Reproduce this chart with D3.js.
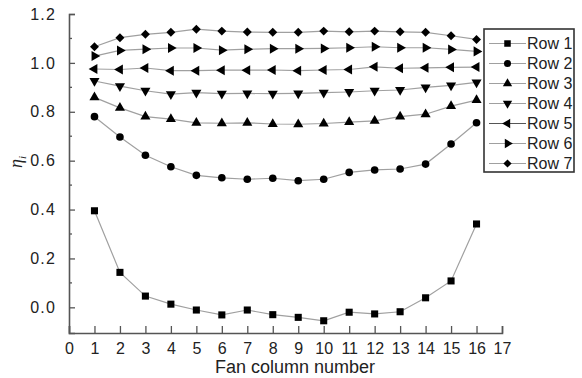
<!DOCTYPE html>
<html>
<head>
<meta charset="utf-8">
<script src="https://cdn.jsdelivr.net/npm/d3@7"></script>
<style>
  html, body { margin: 0; padding: 0; background: #fff; }
  svg { display: block; font-family: Arial, "Liberation Sans", sans-serif; }
</style>
</head>
<body>
<svg id="chart" width="582" height="378"></svg>
<script>
// Fan column numbers along the x axis
const columns = [1, 2, 3, 4, 5, 6, 7, 8, 9, 10, 11, 12, 13, 14, 15, 16];

// Efficiency per fan column, one array per row
const row1 = [0.395, 0.143, 0.046, 0.013, -0.011, -0.031, -0.011, -0.030, -0.041, -0.055, -0.020, -0.027, -0.018, 0.039, 0.108, 0.341];
const row2 = [0.780, 0.697, 0.622, 0.575, 0.540, 0.530, 0.524, 0.528, 0.518, 0.524, 0.552, 0.562, 0.566, 0.586, 0.668, 0.755];
const row3 = [0.859, 0.816, 0.780, 0.770, 0.755, 0.753, 0.755, 0.750, 0.749, 0.752, 0.758, 0.763, 0.780, 0.790, 0.823, 0.848];
const row4 = [0.926, 0.905, 0.886, 0.872, 0.878, 0.874, 0.875, 0.874, 0.875, 0.878, 0.881, 0.886, 0.889, 0.900, 0.908, 0.920];
const row5 = [0.975, 0.973, 0.979, 0.968, 0.968, 0.970, 0.970, 0.971, 0.968, 0.971, 0.973, 0.984, 0.978, 0.980, 0.982, 0.983];
const row6 = [1.028, 1.051, 1.056, 1.061, 1.061, 1.052, 1.056, 1.058, 1.058, 1.059, 1.062, 1.066, 1.062, 1.062, 1.055, 1.047];
const row7 = [1.066, 1.103, 1.117, 1.125, 1.138, 1.130, 1.126, 1.125, 1.125, 1.130, 1.127, 1.130, 1.127, 1.125, 1.111, 1.096];

const seriesNames = ["Row 1", "Row 2", "Row 3", "Row 4", "Row 5", "Row 6", "Row 7"];
const seriesValues = [row1, row2, row3, row4, row5, row6, row7];

// Axis tick values
const xTicks = d3.range(0, 18);
const yMajorTicks = [0.0, 0.2, 0.4, 0.6, 0.8, 1.0, 1.2];
const yMinorTicks = [0.1, 0.3, 0.5, 0.7, 0.9, 1.1];

const svg = d3.select("#chart");
const plot = { left: 69, right: 502, top: 14, bottom: 333 };

const x = d3.scaleLinear().domain([0, 17]).range([plot.left, plot.right]);
const y = d3.scaleLinear().domain([-0.105, 1.2]).range([plot.bottom, plot.top]);

// Marker shapes: square, circle, up/down/left/right triangles, diamond
const markerDefs = [
  { type: d3.symbolSquare, size: 50, rotate: 0 },
  { type: d3.symbolCircle, size: 46, rotate: 0 },
  { type: d3.symbolTriangle, size: 44, rotate: 0 },
  { type: d3.symbolTriangle, size: 44, rotate: 180 },
  { type: d3.symbolTriangle, size: 44, rotate: -90 },
  { type: d3.symbolTriangle, size: 44, rotate: 90 },
  { type: d3.symbolSquare, size: 40, rotate: 45 }
];
const symbolPath = m => d3.symbol().type(m.type).size(m.size)();

const axisColor = "#555";
const lineColor = "#a0a0a0";

// Series lines first, then markers on top
const line = d3.line().x((d, i) => x(columns[i])).y(d => y(d));
const seriesG = svg.append("g");
seriesValues.forEach((vals, s) => {
  seriesG.append("path")
    .attr("d", line(vals))
    .attr("fill", "none")
    .attr("stroke", lineColor)
    .attr("stroke-width", 1.2);
});
seriesValues.forEach((vals, s) => {
  const m = markerDefs[s];
  seriesG.append("g").selectAll("path")
    .data(vals)
    .join("path")
    .attr("d", symbolPath(m))
    .attr("transform", (d, i) => `translate(${x(columns[i])},${y(d)}) rotate(${m.rotate})`)
    .attr("fill", "#000");
});

// X axis: ticks pointing inward (up)
const xAxis = d3.axisBottom(x).tickValues(xTicks).tickSize(-7).tickPadding(10).tickFormat(d3.format("d"));
const gx = svg.append("g").attr("transform", `translate(0,${plot.bottom})`).call(xAxis);
gx.select(".domain").attr("stroke", axisColor).attr("stroke-width", 1.6);
gx.selectAll(".tick line").attr("stroke", axisColor).attr("stroke-width", 1.3);
gx.selectAll(".tick text").attr("fill", "#222").style("font-size", "16px");

// Y axis: major and minor ticks pointing inward (right)
const yAxis = d3.axisLeft(y).tickValues(yMajorTicks).tickSize(-6).tickPadding(13).tickFormat(d3.format(".1f"));
const gy = svg.append("g").attr("transform", `translate(${plot.left},0)`).call(yAxis);
gy.select(".domain").attr("stroke", axisColor).attr("stroke-width", 1.6);
gy.selectAll(".tick line").attr("stroke", axisColor).attr("stroke-width", 1.3);
gy.selectAll(".tick text").attr("fill", "#222").style("font-size", "16px").style("letter-spacing", "1.2px");
gy.selectAll(".minor").data(yMinorTicks).join("line")
  .attr("class", "minor")
  .attr("x1", 0).attr("x2", 3)
  .attr("y1", d => y(d)).attr("y2", d => y(d))
  .attr("stroke", axisColor).attr("stroke-width", 1.3);

// Axis titles
svg.append("text")
  .attr("x", 295).attr("y", 373)
  .attr("text-anchor", "middle")
  .attr("fill", "#222")
  .style("font-size", "18px")
  .text("Fan column number");

const yTitle = svg.append("text")
  .attr("transform", "translate(22,162) rotate(-90)")
  .attr("text-anchor", "middle")
  .attr("fill", "#222")
  .style("font-size", "18px")
  .style("font-family", "'Times New Roman', 'Liberation Serif', serif")
  .style("font-style", "italic");
yTitle.append("tspan").text("η");
yTitle.append("tspan").attr("dy", 4).style("font-size", "11px").text("i");

// Legend
const legend = svg.append("g").attr("transform", "translate(484,29)");
legend.append("rect")
  .attr("width", 90).attr("height", 143)
  .attr("fill", "#fff")
  .attr("stroke", "#333")
  .attr("stroke-width", 1.6);
seriesNames.forEach((name, s) => {
  const yy = 14.5 + s * 20;
  const m = markerDefs[s];
  const item = legend.append("g").attr("transform", `translate(0,${yy})`);
  item.append("line")
    .attr("x1", 5).attr("x2", 42)
    .attr("stroke", s === 4 ? "#555" : lineColor)
    .attr("stroke-width", 1.2);
  item.append("path")
    .attr("d", symbolPath({ type: m.type, size: m.size * 0.85 }))
    .attr("transform", `translate(23.5,0) rotate(${m.rotate})`)
    .attr("fill", "#000");
  item.append("text")
    .attr("x", 43).attr("y", 0)
    .attr("dy", "0.36em")
    .attr("fill", "#222")
    .style("font-size", "16px")
    .text(name);
});
</script>
</body>
</html>
